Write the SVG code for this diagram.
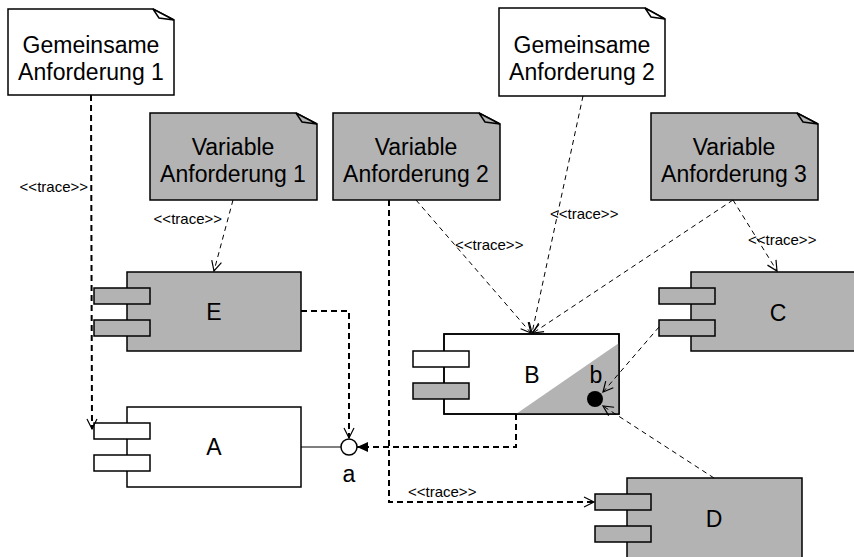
<svg xmlns="http://www.w3.org/2000/svg" width="854" height="557" viewBox="0 0 854 557">
<defs>
<style>
  text { font-family: "Liberation Sans", Arial, sans-serif; fill: #000; }
  .lbl { font-size: 23px; text-anchor: middle; }
  .st { font-size: 15px; }
  .box { stroke: #000; stroke-width: 1.5; }
  .g { fill: #b3b3b3; }
  .w { fill: #fff; }
  .thick { fill: none; stroke: #000; stroke-width: 2; stroke-dasharray: 6 4; }
  .thin { fill: none; stroke: #000; stroke-width: 1; stroke-dasharray: 5 4; }
</style>
<marker id="open" markerUnits="userSpaceOnUse" viewBox="-12 -7 14 14" markerWidth="14" markerHeight="14" refX="0" refY="0" orient="auto">
  <path d="M-10,-5 L0,0 L-10,5" fill="none" stroke="#000" stroke-width="1.2"/>
</marker>
<marker id="filled" markerUnits="userSpaceOnUse" viewBox="-12 -7 14 14" markerWidth="14" markerHeight="14" refX="0" refY="0" orient="auto">
  <path d="M-11,-5 L0,0 L-11,5 Z" fill="#000"/>
</marker>
</defs>

<rect width="854" height="557" fill="#fff"/>

<!-- requirement notes -->
<g id="note-gemeinsam-1">
  <path class="box w" d="M8,9 H153 L174,20 V95 H8 Z"/>
  <path class="box w" d="M153,9 L159,18 L174,20 Z"/>
  <text class="lbl" x="91" y="53">Gemeinsame</text>
  <text class="lbl" x="91" y="80">Anforderung 1</text>
</g>
<g id="note-gemeinsam-2">
  <path class="box w" d="M499,8 H645 L665,19 V96 H499 Z"/>
  <path class="box w" d="M645,8 L651,17 L665,19 Z"/>
  <text class="lbl" x="582" y="53">Gemeinsame</text>
  <text class="lbl" x="582" y="80">Anforderung 2</text>
</g>
<g id="note-variabel-1">
  <path class="box g" d="M150,113 H296 L317,124 V200 H150 Z"/>
  <path class="box g" d="M296,113 L302,122 L317,124 Z"/>
  <text class="lbl" x="233" y="155">Variable</text>
  <text class="lbl" x="233" y="182">Anforderung 1</text>
</g>
<g id="note-variabel-2">
  <path class="box g" d="M333,113 H479 L500,124 V200 H333 Z"/>
  <path class="box g" d="M479,113 L485,122 L500,124 Z"/>
  <text class="lbl" x="416" y="155">Variable</text>
  <text class="lbl" x="416" y="182">Anforderung 2</text>
</g>
<g id="note-variabel-3">
  <path class="box g" d="M651,113 H797 L818,124 V200 H651 Z"/>
  <path class="box g" d="M797,113 L803,122 L818,124 Z"/>
  <text class="lbl" x="734" y="155">Variable</text>
  <text class="lbl" x="734" y="182">Anforderung 3</text>
</g>

<!-- components -->
<g id="comp-E">
  <rect class="box g" x="127" y="272" width="174" height="79"/>
  <rect class="box g" x="94" y="288" width="56" height="16"/>
  <rect class="box g" x="94" y="320" width="56" height="16"/>
  <text class="lbl" x="214" y="320">E</text>
</g>
<g id="comp-A">
  <rect class="box w" x="127" y="407" width="174" height="80"/>
  <rect class="box w" x="94" y="423" width="56" height="16"/>
  <rect class="box w" x="94" y="455" width="56" height="16"/>
  <text class="lbl" x="214" y="455">A</text>
</g>
<g id="comp-B">
  <rect class="box w" x="444" y="334" width="175" height="80"/>
  <polygon class="g" points="516,414 619,343 619,414"/>
  <rect x="444" y="334" width="175" height="80" fill="none" stroke="#000" stroke-width="1.5"/>
  <rect class="box w" x="413" y="351" width="56" height="16"/>
  <rect class="box g" x="413" y="383" width="56" height="16"/>
  <text class="lbl" x="532" y="383">B</text>
  <circle cx="595" cy="399" r="8" fill="#000"/>
  <text class="lbl" x="596" y="383">b</text>
</g>
<g id="comp-C">
  <rect class="box g" x="691" y="272" width="175" height="79"/>
  <rect class="box g" x="659" y="288" width="56" height="16"/>
  <rect class="box g" x="659" y="320" width="56" height="16"/>
  <text class="lbl" x="778" y="321">C</text>
</g>
<g id="comp-D">
  <rect class="box g" x="627" y="478" width="175" height="80"/>
  <rect class="box g" x="595" y="494" width="56" height="16"/>
  <rect class="box g" x="595" y="526" width="56" height="16"/>
  <text class="lbl" x="714" y="527">D</text>
</g>
<g id="iface-a">
  <line x1="301" y1="447" x2="341" y2="447" stroke="#000" stroke-width="1.2"/>
  <circle cx="349" cy="447" r="8" fill="#fff" stroke="#000" stroke-width="1.5"/>
  <text class="lbl" x="349" y="482">a</text>
</g>

<!-- connectors -->
<g id="connectors">
  <path class="thick" d="M91,95 L92,429" marker-end="url(#open)"/>
  <path class="thin" d="M233,200 L214,271" marker-end="url(#open)"/>
  <path class="thin" d="M416,200 L531,333" marker-end="url(#open)"/>
  <path class="thin" d="M583,96 L532,333" marker-end="url(#open)"/>
  <path class="thin" d="M733,200 L533,333" marker-end="url(#open)"/>
  <path class="thin" d="M733,200 L777,271" marker-end="url(#open)"/>
  <path class="thin" d="M659,327 L603,392" marker-end="url(#open)"/>
  <path class="thin" d="M714,478 L603,406" marker-end="url(#open)"/>
  <path class="thick" d="M301,311 H349 V438" marker-end="url(#open)"/>
  <path class="thick" d="M516,414 V447 H357" marker-end="url(#filled)"/>
  <path class="thick" d="M389,200 V502 H594" marker-end="url(#open)"/>

  <text class="st" x="88" y="192" text-anchor="end">&lt;&lt;trace&gt;&gt;</text>
  <text class="st" x="222" y="224" text-anchor="end">&lt;&lt;trace&gt;&gt;</text>
  <text class="st" x="455" y="250">&lt;&lt;trace&gt;&gt;</text>
  <text class="st" x="550" y="219">&lt;&lt;trace&gt;&gt;</text>
  <text class="st" x="748" y="245">&lt;&lt;trace&gt;&gt;</text>
  <text class="st" x="408" y="497">&lt;&lt;trace&gt;&gt;</text>
</g>
</svg>
